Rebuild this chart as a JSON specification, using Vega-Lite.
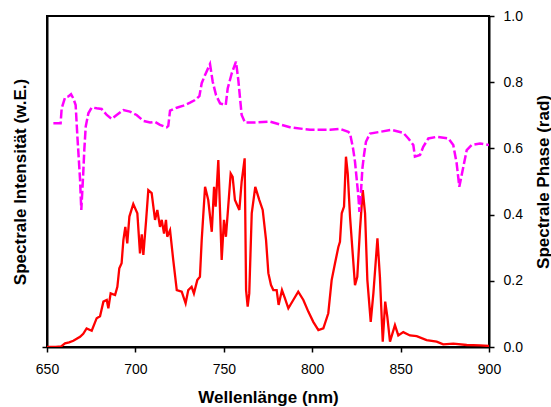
{
  "$schema": "https://vega.github.io/schema/vega-lite/v6.json",
  "width": 442,
  "height": 331,
  "autosize": {"type": "none"},
  "padding": {"left": 47, "top": 16, "right": 62, "bottom": 60},
  "background": "white",
  "config": {
    "view": {"stroke": "black", "strokeWidth": 2},
    "font": "Liberation Sans",
    "axis": {"domainColor": "black", "domainWidth": 2, "tickColor": "black", "tickWidth": 1.5, "grid": false, "labelColor": "black", "titleColor": "black", "labelFont": "Liberation Sans", "titleFont": "Liberation Sans"}
  },
  "datasets": {
    "intensity": [
      {"nm": 650, "v": 0}, {"nm": 655, "v": 0}, {"nm": 658, "v": 0.002}, {"nm": 660.2, "v": 0.011}, {"nm": 662.5, "v": 0.014}, {"nm": 664.9, "v": 0.019}, {"nm": 668.7, "v": 0.031}, {"nm": 670.5, "v": 0.04}, {"nm": 672.4, "v": 0.056}, {"nm": 675.3, "v": 0.049}, {"nm": 678.1, "v": 0.087}, {"nm": 680, "v": 0.093}, {"nm": 681.9, "v": 0.137}, {"nm": 683.8, "v": 0.142}, {"nm": 684.7, "v": 0.117}, {"nm": 686, "v": 0.162}, {"nm": 688.5, "v": 0.157}, {"nm": 689.8, "v": 0.182}, {"nm": 690.9, "v": 0.238}, {"nm": 692.2, "v": 0.253}, {"nm": 693.2, "v": 0.323}, {"nm": 694.3, "v": 0.363}, {"nm": 695.4, "v": 0.313}, {"nm": 696.6, "v": 0.394}, {"nm": 698.8, "v": 0.432}, {"nm": 701.1, "v": 0.404}, {"nm": 702.6, "v": 0.283}, {"nm": 703.6, "v": 0.34}, {"nm": 704.5, "v": 0.278}, {"nm": 706, "v": 0.379}, {"nm": 707.3, "v": 0.474}, {"nm": 709.2, "v": 0.465}, {"nm": 711.1, "v": 0.384}, {"nm": 712.4, "v": 0.414}, {"nm": 713.9, "v": 0.363}, {"nm": 714.9, "v": 0.384}, {"nm": 716.2, "v": 0.343}, {"nm": 717.3, "v": 0.384}, {"nm": 718, "v": 0.333}, {"nm": 719.6, "v": 0.353}, {"nm": 721.4, "v": 0.263}, {"nm": 723.4, "v": 0.172}, {"nm": 726.2, "v": 0.167}, {"nm": 728.4, "v": 0.132}, {"nm": 729.9, "v": 0.172}, {"nm": 731.8, "v": 0.182}, {"nm": 733.1, "v": 0.162}, {"nm": 735, "v": 0.202}, {"nm": 736.5, "v": 0.212}, {"nm": 737.5, "v": 0.323}, {"nm": 739.4, "v": 0.484}, {"nm": 741.2, "v": 0.444}, {"nm": 743.2, "v": 0.348}, {"nm": 744.5, "v": 0.484}, {"nm": 745.4, "v": 0.424}, {"nm": 746.9, "v": 0.565}, {"nm": 748.8, "v": 0.263}, {"nm": 750.1, "v": 0.384}, {"nm": 751.2, "v": 0.333}, {"nm": 752.5, "v": 0.424}, {"nm": 753.9, "v": 0.524}, {"nm": 755, "v": 0.514}, {"nm": 756.3, "v": 0.444}, {"nm": 758.8, "v": 0.414}, {"nm": 760.1, "v": 0.5}, {"nm": 761.8, "v": 0.57}, {"nm": 762.6, "v": 0.172}, {"nm": 763.5, "v": 0.122}, {"nm": 764.4, "v": 0.162}, {"nm": 765.8, "v": 0.404}, {"nm": 767.8, "v": 0.484}, {"nm": 770.1, "v": 0.444}, {"nm": 772, "v": 0.414}, {"nm": 773.9, "v": 0.323}, {"nm": 775.2, "v": 0.223}, {"nm": 776.7, "v": 0.187}, {"nm": 778, "v": 0.172}, {"nm": 779.9, "v": 0.172}, {"nm": 781, "v": 0.127}, {"nm": 782.9, "v": 0.172}, {"nm": 784.6, "v": 0.147}, {"nm": 786.5, "v": 0.117}, {"nm": 789.3, "v": 0.142}, {"nm": 792.1, "v": 0.167}, {"nm": 795, "v": 0.142}, {"nm": 797.8, "v": 0.107}, {"nm": 800.6, "v": 0.076}, {"nm": 803.5, "v": 0.051}, {"nm": 806.3, "v": 0.056}, {"nm": 809.1, "v": 0.102}, {"nm": 811, "v": 0.202}, {"nm": 812.9, "v": 0.253}, {"nm": 814.8, "v": 0.302}, {"nm": 815.7, "v": 0.318}, {"nm": 816.7, "v": 0.404}, {"nm": 818, "v": 0.424}, {"nm": 819.1, "v": 0.575}, {"nm": 820.1, "v": 0.524}, {"nm": 821.4, "v": 0.394}, {"nm": 822.9, "v": 0.283}, {"nm": 824.2, "v": 0.187}, {"nm": 825.5, "v": 0.212}, {"nm": 827, "v": 0.353}, {"nm": 828.6, "v": 0.474}, {"nm": 829.9, "v": 0.404}, {"nm": 831.2, "v": 0.202}, {"nm": 833.1, "v": 0.076}, {"nm": 834.6, "v": 0.162}, {"nm": 836.9, "v": 0.328}, {"nm": 838.3, "v": 0.212}, {"nm": 839.9, "v": 0.016}, {"nm": 841.3, "v": 0.137}, {"nm": 842.5, "v": 0.091}, {"nm": 844, "v": 0.016}, {"nm": 846.8, "v": 0.066}, {"nm": 848.7, "v": 0.035}, {"nm": 851.5, "v": 0.045}, {"nm": 855.3, "v": 0.035}, {"nm": 859.1, "v": 0.033}, {"nm": 864.7, "v": 0.021}, {"nm": 870.4, "v": 0.016}, {"nm": 874.1, "v": 0.008}, {"nm": 879.8, "v": 0.01}, {"nm": 887.4, "v": 0.006}, {"nm": 894.9, "v": 0.005}, {"nm": 900, "v": 0.003}
    ],
    "phase": [
      {"nm": 653.6, "p": 0.676}, {"nm": 657.7, "p": 0.676}, {"nm": 658.3, "p": 0.721}, {"nm": 660.2, "p": 0.754}, {"nm": 662.1, "p": 0.757}, {"nm": 663.6, "p": 0.764}, {"nm": 664.9, "p": 0.751}, {"nm": 666.2, "p": 0.731}, {"nm": 667.2, "p": 0.635}, {"nm": 667.9, "p": 0.575}, {"nm": 668.7, "p": 0.505}, {"nm": 669.4, "p": 0.414}, {"nm": 670.5, "p": 0.525}, {"nm": 671.1, "p": 0.595}, {"nm": 671.9, "p": 0.666}, {"nm": 673.4, "p": 0.706}, {"nm": 675.3, "p": 0.724}, {"nm": 678.1, "p": 0.721}, {"nm": 680.9, "p": 0.719}, {"nm": 683.8, "p": 0.701}, {"nm": 686.6, "p": 0.689}, {"nm": 689.4, "p": 0.701}, {"nm": 693.2, "p": 0.716}, {"nm": 696.9, "p": 0.711}, {"nm": 700.7, "p": 0.701}, {"nm": 704.5, "p": 0.683}, {"nm": 708.3, "p": 0.678}, {"nm": 711.1, "p": 0.68}, {"nm": 713.9, "p": 0.671}, {"nm": 717.7, "p": 0.664}, {"nm": 718.6, "p": 0.668}, {"nm": 719.6, "p": 0.714}, {"nm": 723.4, "p": 0.723}, {"nm": 727.1, "p": 0.729}, {"nm": 730.9, "p": 0.738}, {"nm": 733.7, "p": 0.746}, {"nm": 736.2, "p": 0.758}, {"nm": 737.5, "p": 0.797}, {"nm": 739.4, "p": 0.822}, {"nm": 742.2, "p": 0.855}, {"nm": 743.7, "p": 0.802}, {"nm": 745.6, "p": 0.761}, {"nm": 747.9, "p": 0.736}, {"nm": 751.1, "p": 0.731}, {"nm": 752.2, "p": 0.781}, {"nm": 754.5, "p": 0.827}, {"nm": 756.9, "p": 0.862}, {"nm": 758.2, "p": 0.807}, {"nm": 759.2, "p": 0.751}, {"nm": 760.1, "p": 0.701}, {"nm": 762, "p": 0.678}, {"nm": 766.7, "p": 0.678}, {"nm": 776.1, "p": 0.681}, {"nm": 787.4, "p": 0.664}, {"nm": 798.8, "p": 0.656}, {"nm": 810.1, "p": 0.656}, {"nm": 815.7, "p": 0.659}, {"nm": 820.4, "p": 0.65}, {"nm": 821.4, "p": 0.645}, {"nm": 823.1, "p": 0.6}, {"nm": 824.2, "p": 0.56}, {"nm": 825.3, "p": 0.5}, {"nm": 826.2, "p": 0.45}, {"nm": 826.7, "p": 0.408}, {"nm": 827.6, "p": 0.47}, {"nm": 828.4, "p": 0.54}, {"nm": 829.3, "p": 0.58}, {"nm": 830.4, "p": 0.62}, {"nm": 832.7, "p": 0.645}, {"nm": 838.3, "p": 0.65}, {"nm": 844.9, "p": 0.656}, {"nm": 851.5, "p": 0.647}, {"nm": 854.4, "p": 0.63}, {"nm": 857.2, "p": 0.61}, {"nm": 858.1, "p": 0.575}, {"nm": 861, "p": 0.58}, {"nm": 862.8, "p": 0.605}, {"nm": 865.7, "p": 0.63}, {"nm": 870.4, "p": 0.635}, {"nm": 877, "p": 0.63}, {"nm": 879.8, "p": 0.61}, {"nm": 881.7, "p": 0.555}, {"nm": 883.2, "p": 0.484}, {"nm": 885.5, "p": 0.545}, {"nm": 887.4, "p": 0.595}, {"nm": 890.2, "p": 0.61}, {"nm": 894.9, "p": 0.615}, {"nm": 900, "p": 0.61}
    ]
  },
  "layer": [
    {
      "data": {"name": "intensity"},
      "mark": {"type": "line", "color": "#ff0000", "strokeWidth": 2.3, "clip": true},
      "encoding": {
        "x": {"field": "nm", "type": "quantitative", "scale": {"domain": [650, 900], "nice": false, "zero": false},
          "axis": {"title": "Wellenlänge (nm)", "values": [650, 700, 750, 800, 850, 900], "tickSize": 5, "labelPadding": 10, "labelFontSize": 14, "labelFlush": false, "titleFontSize": 17, "titleFontWeight": "bold", "titleBaseline": "alphabetic", "titleY": 55}},
        "y": {"field": "v", "type": "quantitative", "scale": {"domain": [0, 1], "nice": false},
          "axis": {"orient": "left", "title": "Spectrale Intensität (w.E.)", "values": [0], "labels": false, "tickSize": 5, "titleFontSize": 17, "titleFontWeight": "bold", "titleAngle": 270, "titleBaseline": "alphabetic", "titleAlign": "center", "titleX": -22, "titleY": 165.5}}
      }
    },
    {
      "data": {"name": "phase"},
      "mark": {"type": "line", "color": "#ff00ff", "strokeWidth": 2.5, "strokeDash": [9, 3], "clip": true},
      "encoding": {
        "x": {"field": "nm", "type": "quantitative"},
        "y": {"field": "p", "type": "quantitative", "scale": {"domain": [0, 1], "nice": false},
          "axis": {"orient": "right", "title": "Spectrale Phase (rad)", "values": [0, 0.2, 0.4, 0.6, 0.8, 1.0], "format": ".1f", "tickSize": 5, "labelPadding": 9, "labelFontSize": 14, "labelFlush": false, "titleFontSize": 17, "titleFontWeight": "bold", "titleAngle": 270, "titleBaseline": "alphabetic", "titleAlign": "center", "titleX": 59, "titleY": 165.5}}
      }
    }
  ],
  "resolve": {"scale": {"y": "independent"}}
}
